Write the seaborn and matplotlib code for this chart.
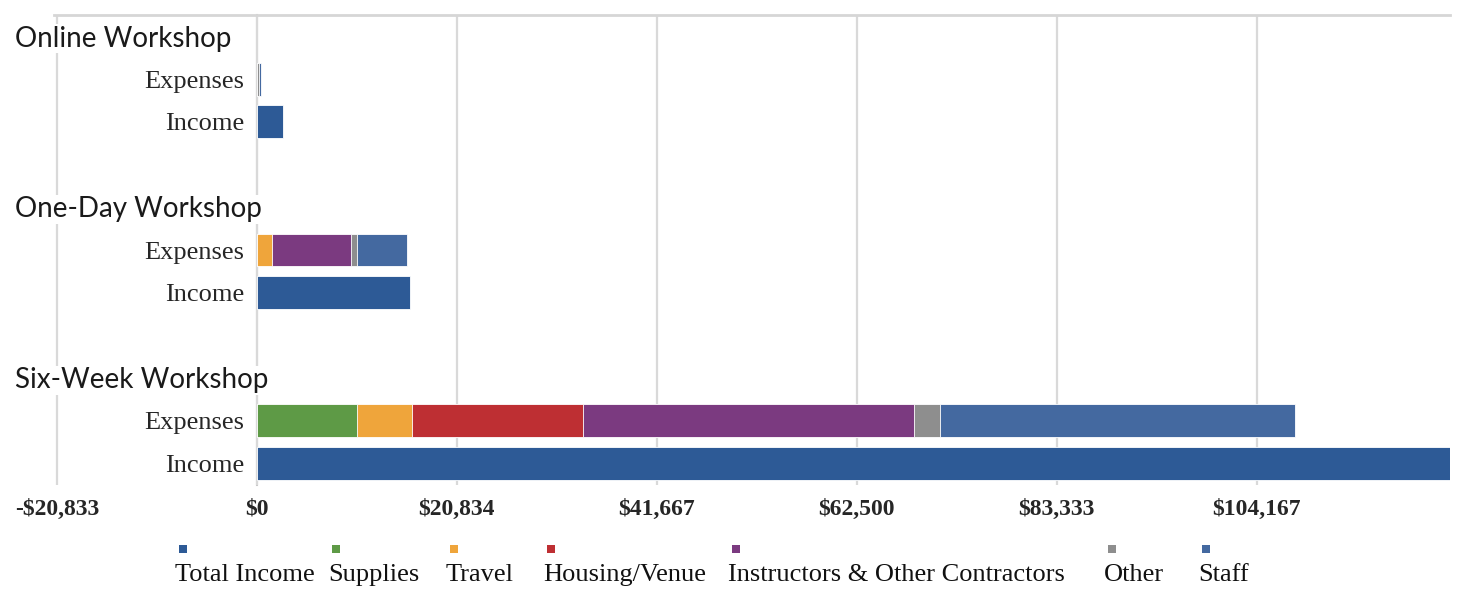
"""
plot.py
-------
Workshop budgets: income vs stacked expenses per workshop format.
Saves out.png (1457x590).
"""

import matplotlib.pyplot as plt
import matplotlib.transforms as mtrans
from matplotlib.patches import Rectangle
import pandas as pd
import seaborn as sns

# ---------------------------------------------------------------------------
# Data
# ---------------------------------------------------------------------------

WORKSHOPS = ["Online Workshop", "One-Day Workshop", "Six-Week Workshop"]
INCOME = [2700, 15900, 125000]

EXPENSE_CATS = ["Supplies", "Travel", "Housing/Venue",
                "Instructors & Other Contractors", "Other", "Staff"]
SUPPLIES = [0, 0, 10400]
TRAVEL = [0, 1600, 5800]
HOUSING = [0, 0, 17800]
INSTRUCTORS = [0, 8200, 34500]
OTHER = [200, 600, 2650]
STAFF = [250, 5200, 36950]

TICK_VALUES = [-20833, 0, 20834, 41667, 62500, 83333, 104167]
TICK_LABELS = ["-$20,833", "$0", "$20,834", "$41,667", "$62,500", "$83,333", "$104,167"]

LEGEND_LABELS = ["Total Income"] + EXPENSE_CATS

# ---------------------------------------------------------------------------
# Style
# ---------------------------------------------------------------------------

COLORS = {
    "Total Income": "#2D5A96",
    "Supplies": "#5E9A46",
    "Travel": "#EFA53B",
    "Housing/Venue": "#BE2F33",
    "Instructors & Other Contractors": "#7B3A80",
    "Other": "#8E8E8E",
    "Staff": "#4469A0",
}
GRID = "#d9d9d9"
SERIF = ["Liberation Serif", "DejaVu Serif"]
SANS = ["Lato", "DejaVu Sans"]

sns.set_theme(style="white")
plt.rcParams["font.family"] = SERIF

W, H = 1457, 590
# legend layout (pixel x of each label start)
LEGEND_X = [175, 328, 446, 543, 728, 1104, 1198]

# ---------------------------------------------------------------------------
# Build rows
# ---------------------------------------------------------------------------

row_keys, row_text, header_rows = [], [], []
for i, w in enumerate(WORKSHOPS):
    header_rows.append((len(row_keys), w))
    row_keys += [f"{w}|hdr", f"{w}|exp", f"{w}|inc"]
    row_text += ["", "Expenses", "Income"]
    if i < len(WORKSHOPS) - 1:
        row_keys.append(f"{w}|gap")
        row_text.append("")

series = [SUPPLIES, TRAVEL, HOUSING, INSTRUCTORS, OTHER, STAFF]
records = []
for wi, w in enumerate(WORKSHOPS):
    for cat, vals in zip(EXPENSE_CATS, series):
        records.append({"row": f"{w}|exp", "category": cat, "value": vals[wi]})
exp = pd.DataFrame(records)
exp["cum"] = exp.groupby("row")["value"].cumsum()

inc = pd.DataFrame({"row": [f"{w}|inc" for w in WORKSHOPS], "value": INCOME})

# ---------------------------------------------------------------------------
# Plot
# ---------------------------------------------------------------------------

fig = plt.figure(figsize=(W / 100, H / 100), dpi=100)
x_lo, x_hi = -21100, 124300
px_per = 200 / 20833
ax_left = 257 - (0 - x_lo) * px_per
ax_right = 1450
ax = fig.add_axes([ax_left / W, 1 - 485 / H, (ax_right - ax_left) / W, 470 / H])
ax.set_axisbelow(True)

bar_kw = dict(orient="h", order=row_keys, width=0.77, errorbar=None,
              saturation=1, edgecolor="white", linewidth=0.6, ax=ax)

# stacked expenses: draw cumulative totals from the last segment back
for cat in reversed(EXPENSE_CATS):
    sub = exp[(exp["category"] == cat) & (exp["value"] > 0)]
    if len(sub):
        sns.barplot(data=sub, x="cum", y="row", color=COLORS[cat], **bar_kw)

sns.barplot(data=inc, x="value", y="row", color=COLORS["Total Income"], **bar_kw)

ax.set_xlim(x_lo, x_hi)
ax.set_ylim(len(row_keys) - 0.5, -0.5)
ax.set_xlabel("")
ax.set_ylabel("")

# x axis
ax.set_xticks(TICK_VALUES)
ax.set_xticklabels(TICK_LABELS, fontweight="bold")
ax.tick_params(axis="x", length=0, pad=10, labelsize=17)
ax.xaxis.grid(True, color=GRID, linewidth=1.6)

# y axis sits on $0
ax.set_yticks(range(len(row_keys)))
ax.set_yticklabels(row_text)
ax.set_yticks([i - 0.5 for i in range(len(row_keys) + 1)], minor=True)
ax.tick_params(axis="y", which="major", length=0, pad=9, labelsize=19)
ax.tick_params(axis="y", which="minor", length=5, width=1.2, color="#c8c8c8", direction="out")
ax.spines["left"].set_position(("data", 0))
ax.spines["left"].set_color("#c8c8c8")
ax.spines["left"].set_linewidth(1.5)
ax.spines["left"].set_zorder(0.5)
ax.spines["top"].set_color("#d6d6d6")
ax.spines["top"].set_linewidth(2)
ax.spines["right"].set_visible(False)
ax.spines["bottom"].set_visible(False)

# group headers
trans = mtrans.blended_transform_factory(fig.transFigure, ax.transData)
for idx, name in header_rows:
    ax.text(15 / W, idx + 0.05, name, transform=trans, ha="left", va="center",
            fontsize=20, family=SANS, color="#1a1a1a",
            bbox=dict(facecolor="white", edgecolor="none", pad=1))

# legend: small square above each label
for x, lab in zip(LEGEND_X, LEGEND_LABELS):
    fig.text(x / W, 1 - 575 / H, lab, ha="left", va="center", fontsize=19,
             color="#111111")
    fig.patches.append(Rectangle(((x + 4) / W, 1 - 553 / H), 8 / W, 8 / H,
                                 transform=fig.transFigure,
                                 facecolor=COLORS[lab], edgecolor="none"))

fig.savefig("out.png", dpi=100)
